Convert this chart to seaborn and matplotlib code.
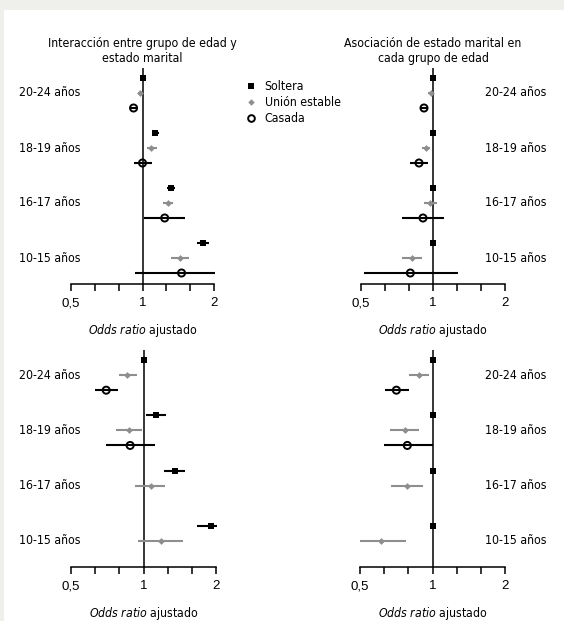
# Odds ratio ajustado por grupo de edad y estado marital (4 paneles)
import numpy as np
import pandas as pd
import matplotlib
matplotlib.use('Agg')
import matplotlib.pyplot as plt
import seaborn as sns
from matplotlib.lines import Line2D
from matplotlib.patches import Rectangle
from matplotlib.ticker import NullFormatter

nan = np.nan

# grupos de edad (de arriba a abajo) y estados maritales
grupos = ['20-24 años', '18-19 años', '16-17 años', '10-15 años']
estados = ['Soltera', 'Unión estable', 'Casada']

# panel superior izquierdo: interacción
a_soltera = [1.00, 1.13, 1.32, 1.80]
a_soltera_lo = [1.00, 1.10, 1.27, 1.70]
a_soltera_hi = [1.00, 1.17, 1.37, 1.90]
a_union = [0.978, 1.087, 1.28, 1.44]
a_union_lo = [0.953, 1.04, 1.22, 1.32]
a_union_hi = [1.003, 1.15, 1.35, 1.57]
a_casada = [0.917, 1.00, 1.24, 1.46]
a_casada_lo = [0.89, 0.917, 1.016, 0.926]
a_casada_hi = [0.945, 1.094, 1.51, 2.01]

# panel superior derecho: asociación en cada grupo de edad
b_soltera = [1.00, 1.00, 1.00, 1.00]
b_soltera_lo = [1.00, 1.00, 1.00, 1.00]
b_soltera_hi = [1.00, 1.00, 1.00, 1.00]
b_union = [0.978, 0.935, 0.971, 0.82]
b_union_lo = [0.953, 0.897, 0.92, 0.744]
b_union_hi = [1.003, 0.972, 1.036, 0.903]
b_casada = [0.917, 0.874, 0.908, 0.804]
b_casada_lo = [0.895, 0.804, 0.744, 0.516]
b_casada_hi = [0.94, 0.956, 1.115, 1.268]

# panel inferior izquierdo
c_soltera = [1.00, 1.122, 1.346, 1.91]
c_soltera_lo = [1.00, 1.02, 1.215, 1.67]
c_soltera_hi = [1.00, 1.24, 1.49, 2.02]
c_union = [0.858, 0.869, 1.073, 1.18]
c_union_lo = [0.79, 0.77, 0.926, 0.947]
c_union_hi = [0.944, 0.987, 1.23, 1.458]
c_casada = [0.70, 0.88, nan, nan]
c_casada_lo = [0.63, 0.70, nan, nan]
c_casada_hi = [0.787, 1.118, nan, nan]

# panel inferior derecho
d_soltera = [1.00, 1.00, 1.00, 1.00]
d_soltera_lo = [1.00, 1.00, 1.00, 1.00]
d_soltera_hi = [1.00, 1.00, 1.00, 1.00]
d_union = [0.875, 0.768, 0.786, 0.61]
d_union_lo = [0.796, 0.664, 0.675, 0.50]
d_union_hi = [0.963, 0.881, 0.912, 0.774]
d_casada = [0.708, 0.786, nan, nan]
d_casada_lo = [0.637, 0.627, nan, nan]
d_casada_hi = [0.796, 1.00, nan, nan]

titulos = ['Interacción entre grupo de edad y\nestado marital',
           'Asociación de estado marital en\ncada grupo de edad', None, None]

# estilos
colores = {'Soltera': 'black', 'Unión estable': '#8e8e8e', 'Casada': 'black'}
marcadores = {'Soltera': 's', 'Unión estable': 'D', 'Casada': 'o'}
tamanos = {'Soltera': 22, 'Unión estable': 12, 'Casada': 26}

sns.set_style('ticks')
plt.rcParams['font.family'] = ['DejaVu Sans']
plt.rcParams['font.stretch'] = 'condensed'
plt.rcParams['text.color'] = 'black'
plt.rcParams['axes.labelcolor'] = 'black'
plt.rcParams['xtick.color'] = 'black'
plt.rcParams['mathtext.fontset'] = 'custom'
plt.rcParams['mathtext.rm'] = 'DejaVu Sans:stretch=condensed'
plt.rcParams['mathtext.it'] = 'DejaVu Sans:italic:stretch=condensed'


def tabla(sol, sol_lo, sol_hi, uni, uni_lo, uni_hi, cas, cas_lo, cas_hi):
    filas = []
    for est, v, lo, hi in [('Soltera', sol, sol_lo, sol_hi),
                           ('Unión estable', uni, uni_lo, uni_hi),
                           ('Casada', cas, cas_lo, cas_hi)]:
        for i, g in enumerate(grupos):
            filas.append({'grupo': g, 'estado': est, 'or': v[i], 'lo': lo[i], 'hi': hi[i],
                          'y': i + estados.index(est) * 15 / 55})
    return pd.DataFrame(filas)


paneles = [
    tabla(a_soltera, a_soltera_lo, a_soltera_hi, a_union, a_union_lo, a_union_hi,
          a_casada, a_casada_lo, a_casada_hi),
    tabla(b_soltera, b_soltera_lo, b_soltera_hi, b_union, b_union_lo, b_union_hi,
          b_casada, b_casada_lo, b_casada_hi),
    tabla(c_soltera, c_soltera_lo, c_soltera_hi, c_union, c_union_lo, c_union_hi,
          c_casada, c_casada_lo, c_casada_hi),
    tabla(d_soltera, d_soltera_lo, d_soltera_hi, d_union, d_union_lo, d_union_hi,
          d_casada, d_casada_lo, d_casada_hi),
]

W, H = 564, 621
fig = plt.figure(figsize=(W / 100, H / 100), dpi=100)
fig.patch.set_facecolor('#efefeb')
fig.add_artist(Rectangle((4 / W, 0), 1, 1 - 10 / H, transform=fig.transFigure,
                         facecolor='white', edgecolor='none', zorder=0))

# posiciones en pixeles: izquierda, derecha, arriba, abajo
cajas = [(71, 214, 68, 284), (361, 505, 68, 284), (71, 216, 350, 567), (360, 505, 350, 567)]
etiquetas_izq = [True, False, True, False]

for k, df in enumerate(paneles):
    l, r, t, b = cajas[k]
    ax = fig.add_axes([l / W, 1 - b / H, (r - l) / W, (b - t) / H])
    ax.set_facecolor('none')
    ax.set_xscale('log', base=2)

    ax.axvline(1, color='black', lw=1.1, zorder=1)

    for est in estados:
        sub = df[(df['estado'] == est) & df['or'].notna()]
        ax.hlines(sub['y'], sub['lo'], sub['hi'], color=colores[est], lw=1.5,
                  zorder=2, clip_on=False)
        if est == 'Casada':
            sns.scatterplot(data=sub, x='or', y='y', ax=ax, marker='o', s=tamanos[est],
                            color='black', facecolor='none', edgecolor='black',
                            linewidth=1.4, zorder=3, clip_on=False, legend=False)
        else:
            sns.scatterplot(data=sub, x='or', y='y', ax=ax, marker=marcadores[est],
                            s=tamanos[est], color=colores[est], edgecolor=colores[est],
                            linewidth=0, zorder=3, clip_on=False, legend=False)

    ax.set_xlim(0.5, 2)
    ax.set_ylim(206 / 55, -10 / 55)

    ax.set_xticks([0.5, 1, 2])
    ax.set_xticklabels(['0,5', '1', '2'])
    ax.set_xticks([2 ** (-2 / 3), 2 ** (-1 / 3), 2 ** (1 / 3), 2 ** (2 / 3)], minor=True)
    ax.xaxis.set_minor_formatter(NullFormatter())
    ax.tick_params(axis='x', which='both', direction='out', length=5, width=1.1,
                   color='black', labelcolor='black', pad=4.5, labelsize=9.5)
    for lab in ax.get_xticklabels():
        lab.set_fontfamily('Liberation Sans')
        lab.set_fontstretch('normal')
    ax.set_yticks([])

    for s in ['top', 'right', 'left']:
        ax.spines[s].set_visible(False)
    ax.spines['bottom'].set_linewidth(1.1)
    ax.spines['bottom'].set_color('black')

    ax.set_xlabel(r'$\mathit{Odds\ ratio}$ ajustado', fontsize=8.8, labelpad=9)
    ax.set_ylabel('')

    if titulos[k]:
        ax.set_title(titulos[k], fontsize=8.8, pad=4)

    for i, g in enumerate(grupos):
        if etiquetas_izq[k]:
            ax.text(0.063, i + 15 / 55, g, transform=ax.get_yaxis_transform(),
                    ha='right', va='center', fontsize=8.8)
        else:
            ax.text(0.861, i + 15 / 55, g, transform=ax.get_yaxis_transform(),
                    ha='left', va='center', fontsize=8.8)

# leyenda entre los paneles superiores
manijas = [
    Line2D([], [], ls='none', marker='s', ms=4.5, mfc='black', mec='black', mew=0),
    Line2D([], [], ls='none', marker='D', ms=3.3, mfc='#8e8e8e', mec='#8e8e8e', mew=0),
    Line2D([], [], ls='none', marker='o', ms=4.8, mfc='none', mec='black', mew=1.4),
]
fig.legend(manijas, estados, loc='upper left', bbox_to_anchor=(245 / W, 1 - 80 / H),
           frameon=False, fontsize=8.8, handlelength=1.0, handletextpad=0.6,
           labelspacing=0.25, borderpad=0, borderaxespad=0)

fig.savefig('out.png', dpi=100, facecolor=fig.get_facecolor())
